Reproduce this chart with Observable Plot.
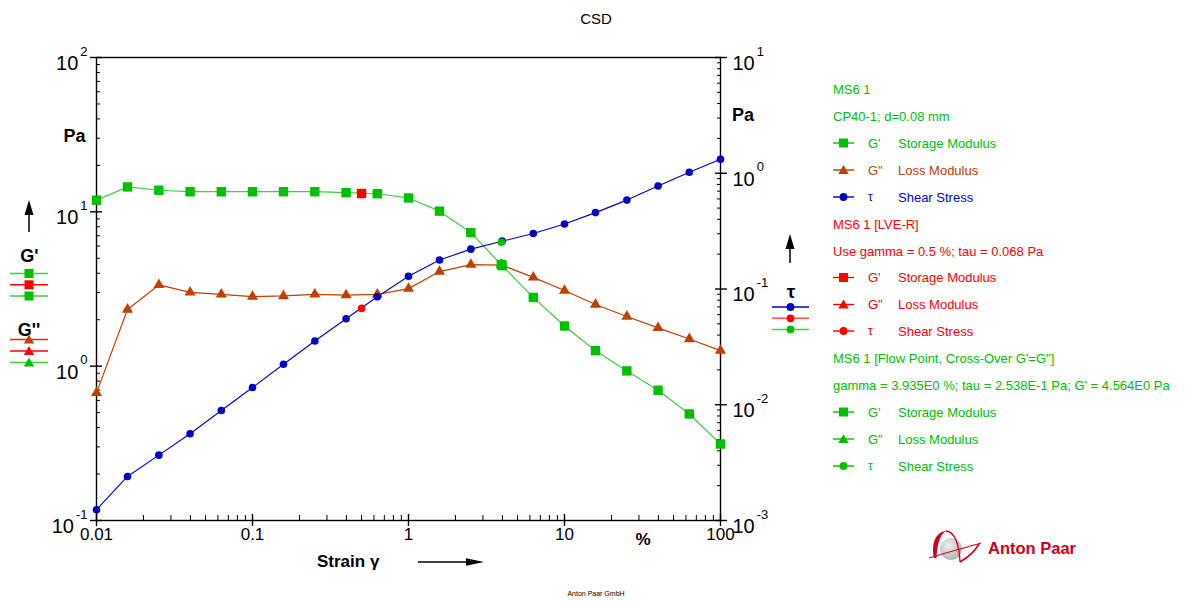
<!DOCTYPE html>
<html>
<head>
<meta charset="utf-8">
<script src="https://cdn.jsdelivr.net/npm/d3@7"></script>
<script src="https://cdn.jsdelivr.net/npm/@observablehq/plot@0.6"></script>
<style>
  body { margin: 0; background: #fff; }
  #wrap { position: relative; width: 1191px; height: 601px; overflow: hidden; background: #fff; }
  #wrap svg { position: absolute; left: 0; top: 0; }
</style>
</head>
<body>
<div id="wrap"></div>
<script>
// ---------------- data ----------------
const strain = [0.01, 0.0158, 0.0251, 0.0398, 0.0631, 0.1, 0.158, 0.251, 0.398, 0.631, 1, 1.58, 2.51, 3.98, 6.31, 10, 15.8, 25.1, 39.8, 63.1, 100];
const storageModulus = [11.9, 14.5, 13.8, 13.5, 13.5, 13.5, 13.5, 13.5, 13.3, 13.1, 12.3, 10.1, 7.34, 4.48, 2.79, 1.82, 1.26, 0.932, 0.698, 0.490, 0.313];
const lossModulus = [0.671, 2.33, 3.36, 3.01, 2.92, 2.82, 2.85, 2.92, 2.89, 2.92, 3.18, 4.10, 4.55, 4.51, 3.76, 3.09, 2.51, 2.10, 1.77, 1.50, 1.26];
const shearStress = [0.00124, 0.00240, 0.00367, 0.00561, 0.00893, 0.0141, 0.0224, 0.0355, 0.0553, 0.0858, 0.129, 0.178, 0.221, 0.259, 0.302, 0.364, 0.457, 0.586, 0.775, 1.02, 1.32];

// LVE-R result (red)
const lveStrain = [0.5];
const lveStorage = [13.15];
const lveStress = [0.068];

// Flow point, cross-over (green)
const crossStrain = [3.935];
const crossStorage = [4.564];
const crossLoss = [4.564];
const crossStress = [0.2538];

// axes
const xTicks = [0.01, 0.1, 1, 10, 100];
const xTickLabels = ["0.01", "0.1", "1", "10", "100"];
const leftTicks = [0.1, 1, 10, 100];
const leftExponents = ["-1", "0", "1", "2"];
const rightTicks = [0.001, 0.01, 0.1, 1, 10];
const rightExponents = ["-3", "-2", "-1", "0", "1"];
const minorSteps = [2, 3, 4, 5, 6, 7, 8, 9];

const xMinor = [0.01, 0.1, 1, 10].flatMap(d => minorSteps.map(k => k * d));
const leftMinor = [0.1, 1, 10].flatMap(d => minorSteps.map(k => k * d));
const rightMinor = [0.001, 0.01, 0.1, 1].flatMap(d => minorSteps.map(k => k * d));

// right (tau) axis: 10^-3..10^1 mapped onto left scale 10^-1..10^2
const tauToY = t => Math.pow(10, -1 + (Math.log10(t) + 3) * 0.75);

const GREEN = "#00c000", GREEN_LINE = "#3fcf3f", BROWN = "#c04000", BLUE = "#0000c4", RED = "#ff0000";
const FONT = "'Liberation Sans', Arial, Helvetica, sans-serif";

const rows = strain.map((s, i) => ({s, g1: storageModulus[i], g2: lossModulus[i], tau: shearStress[i]}));
const lve = lveStrain.map((s, i) => ({s, g1: lveStorage[i], tau: lveStress[i]}));
const cross = crossStrain.map((s, i) => ({s, g1: crossStorage[i], g2: crossLoss[i], tau: crossStress[i]}));

const rSq = 5.3, rTri = 4.1, rCirc = 3.8;
const EXP_SIZE = 13, BASE_SIZE = 20;
// approximate advance width of an exponent string (Liberation Sans metrics)
const expWidth = s => [...s].reduce((w, c) => w + (c === "-" ? 0.333 : 0.556) * EXP_SIZE, 0);

const leftBaseMarks = leftTicks.map((t, i) =>
  Plot.text([t], {y: d => d, text: () => "10", frameAnchor: "left", textAnchor: "end",
    dx: -9 - expWidth(leftExponents[i]) - 2, dy: 6, fontSize: BASE_SIZE}));

const chart = Plot.plot({
  width: 1191,
  height: 601,
  marginLeft: 96,
  marginRight: 471,
  marginTop: 57,
  marginBottom: 81,
  x: {type: "log", domain: [0.01, 100]},
  y: {type: "log", domain: [0.1, 100]},
  style: {fontFamily: FONT, background: "transparent", overflow: "visible", color: "black"},
  marks: [
    // axes ticks
    Plot.axisY(leftMinor, {anchor: "left", tickSize: 4, dx: 4, tickFormat: () => "", label: null, strokeWidth: 1}),
    Plot.axisY(leftTicks, {anchor: "left", tickSize: 12, dx: 6, tickFormat: () => "", label: null, strokeWidth: 1.4}),
    Plot.axisY(rightMinor.map(tauToY), {anchor: "right", tickSize: 4, dx: -4, tickFormat: () => "", label: null, strokeWidth: 1}),
    Plot.axisY(rightTicks.map(tauToY), {anchor: "right", tickSize: 12, dx: -6, tickFormat: () => "", label: null, strokeWidth: 1.4}),
    Plot.axisX(xMinor, {anchor: "bottom", tickSize: 5, dy: -5, tickFormat: () => "", label: null, strokeWidth: 1}),
    Plot.axisX(xTicks, {anchor: "bottom", tickSize: 12, dy: -6, tickFormat: () => "", label: null, strokeWidth: 1.4}),
    Plot.frame({stroke: "black", strokeWidth: 1.4}),
    // tick labels: left (right-aligned "10" + exponent)
    ...leftBaseMarks,
    Plot.text(leftTicks, {y: d => d, text: leftExponents, frameAnchor: "left", textAnchor: "end", dx: -9, dy: -6, fontSize: EXP_SIZE}),
    // right (left-aligned "10" + exponent)
    Plot.text(rightTicks.map(tauToY), {y: d => d, text: () => "10", frameAnchor: "right", textAnchor: "start", dx: 12, dy: 6, fontSize: BASE_SIZE}),
    Plot.text(rightTicks.map(tauToY), {y: d => d, text: rightExponents, frameAnchor: "right", textAnchor: "start", dx: 12 + 22.2 + 2, dy: -6, fontSize: EXP_SIZE}),
    // x
    Plot.text(xTicks, {x: d => d, text: xTickLabels, frameAnchor: "bottom", dy: 19, fontSize: 17}),
    // lines
    Plot.line(rows, {x: "s", y: "g1", stroke: GREEN_LINE, strokeWidth: 1.2}),
    Plot.line(rows, {x: "s", y: "g2", stroke: BROWN, strokeWidth: 1.2}),
    Plot.line(rows, {x: "s", y: d => tauToY(d.tau), stroke: BLUE, strokeWidth: 1.1}),
    // markers
    Plot.dot(rows, {x: "s", y: "g2", symbol: "triangle", r: rTri, fill: BROWN}),
    Plot.dot(rows, {x: "s", y: "g1", symbol: "square", r: rSq, fill: GREEN}),
    Plot.dot(rows, {x: "s", y: d => tauToY(d.tau), symbol: "circle", r: rCirc, fill: BLUE}),
    // LVE-R
    Plot.dot(lve, {x: "s", y: "g1", symbol: "square", r: rSq, fill: RED}),
    Plot.dot(lve, {x: "s", y: d => tauToY(d.tau), symbol: "circle", r: rCirc, fill: RED}),
    // cross-over
    Plot.dot(cross, {x: "s", y: "g2", symbol: "triangle", r: rTri, fill: GREEN}),
    Plot.dot(cross, {x: "s", y: "g1", symbol: "square", r: rSq, fill: GREEN}),
    Plot.dot(cross, {x: "s", y: d => tauToY(d.tau), symbol: "circle", r: rCirc, fill: GREEN})
  ]
});

document.getElementById("wrap").appendChild(chart);

// ---------------- decorations / legends ----------------
const ov = d3.select("#wrap").append("svg")
  .attr("width", 1191).attr("height", 601)
  .style("font-family", FONT)
  .style("pointer-events", "none");

function txt(x, y, s, opts = {}) {
  return ov.append("text").attr("x", x).attr("y", y)
    .attr("dominant-baseline", "central")
    .attr("text-anchor", opts.anchor || "start")
    .attr("font-size", opts.size || 13)
    .attr("font-weight", opts.bold ? "bold" : "normal")
    .attr("fill", opts.color || "black")
    .text(s);
}
function symbol(x1, x2, y, color, shape, lineColor) {
  ov.append("line").attr("x1", x1).attr("x2", x2).attr("y1", y).attr("y2", y)
    .attr("stroke", lineColor || color).attr("stroke-width", 1.4);
  const cx = (x1 + x2) / 2;
  if (shape === "square") ov.append("rect").attr("x", cx - 4.5).attr("y", y - 4.5).attr("width", 9).attr("height", 9).attr("fill", color);
  if (shape === "triangle") ov.append("path").attr("d", `M${cx},${y - 5}L${cx + 5.2},${y + 4}L${cx - 5.2},${y + 4}Z`).attr("fill", color);
  if (shape === "circle") ov.append("circle").attr("cx", cx).attr("cy", y).attr("r", 3.9).attr("fill", color);
}
function arrowUp(x, yTip, yBottom) {
  ov.append("line").attr("x1", x).attr("x2", x).attr("y1", yTip + 10).attr("y2", yBottom).attr("stroke", "black").attr("stroke-width", 1.5);
  ov.append("path").attr("d", `M${x},${yTip}L${x + 4.5},${yTip + 15}L${x - 4.5},${yTip + 15}Z`).attr("fill", "black");
}

// title
txt(596, 18, "CSD", {anchor: "middle", size: 15});

// left axis unit and legend
txt(74.5, 135.5, "Pa", {anchor: "middle", size: 18, bold: true});
arrowUp(29, 200, 232);
txt(29.5, 256, "G'", {anchor: "middle", size: 18, bold: true});
symbol(10, 48, 273.5, GREEN, "square", GREEN_LINE);
symbol(10, 48, 284.8, RED, "square");
symbol(10, 48, 296, GREEN, "square", GREEN_LINE);
txt(29, 330, "G''", {anchor: "middle", size: 18, bold: true});
symbol(10, 48, 339.5, BROWN, "triangle");
symbol(10, 48, 351, RED, "triangle");
symbol(10, 48, 362.5, GREEN, "triangle", GREEN_LINE);

// right axis unit and legend
txt(743, 115, "Pa", {anchor: "middle", size: 18, bold: true});
arrowUp(790, 234, 263);
txt(791, 291, "τ", {anchor: "middle", size: 19, bold: true});
symbol(772, 809, 307, BLUE, "circle");
symbol(772, 809, 318.3, RED, "circle", "#ff5050");
symbol(772, 809, 329.5, GREEN, "circle", GREEN_LINE);

// x axis labels
txt(643, 539, "%", {anchor: "middle", size: 17, bold: true});
txt(317, 561, "Strain γ", {size: 17, bold: true});
ov.append("line").attr("x1", 418).attr("x2", 470).attr("y1", 562).attr("y2", 562).attr("stroke", "black").attr("stroke-width", 1.5);
ov.append("path").attr("d", "M484,562L466,558.3L466,565.7Z").attr("fill", "black");

// right-hand legend
const LX = 833, SYM_X2 = 854, NAME1 = 868, NAME2 = 898;
const legendRows = [
  {y: 89, type: "head", text: "MS6 1", color: GREEN},
  {y: 116, type: "head", text: "CP40-1; d=0.08 mm", color: GREEN},
  {y: 143, type: "item", shape: "square", sym: "G'", text: "Storage Modulus", color: GREEN},
  {y: 170, type: "item", shape: "triangle", sym: "G\"", text: "Loss Modulus", color: BROWN},
  {y: 197, type: "item", shape: "circle", sym: "τ", text: "Shear Stress", color: BLUE},
  {y: 224, type: "head", text: "MS6 1 [LVE-R]", color: RED},
  {y: 251, type: "head", text: "Use gamma = 0.5 %; tau = 0.068 Pa", color: RED},
  {y: 277.5, type: "item", shape: "square", sym: "G'", text: "Storage Modulus", color: RED},
  {y: 304.5, type: "item", shape: "triangle", sym: "G\"", text: "Loss Modulus", color: RED},
  {y: 331, type: "item", shape: "circle", sym: "τ", text: "Shear Stress", color: RED},
  {y: 358.5, type: "head", text: "MS6 1 [Flow Point, Cross-Over G'=G\"]", color: GREEN},
  {y: 385, type: "head", text: "gamma = 3.935E0 %; tau = 2.538E-1 Pa; G' = 4.564E0 Pa", color: GREEN},
  {y: 412, type: "item", shape: "square", sym: "G'", text: "Storage Modulus", color: GREEN},
  {y: 439, type: "item", shape: "triangle", sym: "G\"", text: "Loss Modulus", color: GREEN},
  {y: 466, type: "item", shape: "circle", sym: "τ", text: "Shear Stress", color: GREEN}
];
legendRows.forEach(r => {
  if (r.type === "head") {
    txt(LX, r.y, r.text, {color: r.color, size: 13});
  } else {
    symbol(LX, SYM_X2, r.y, r.color, r.shape);
    txt(NAME1, r.y, r.sym, {color: r.color, size: r.sym === "τ" ? 12 : 13});
    txt(NAME2, r.y, r.text, {color: r.color, size: 13});
  }
});

// logo
const LOGO_RED = "#d0001a";
const grad = ov.append("defs").append("radialGradient").attr("id", "sph").attr("cx", "40%").attr("cy", "35%").attr("r", "70%");
grad.append("stop").attr("offset", "0%").attr("stop-color", "#f0f0f0");
grad.append("stop").attr("offset", "100%").attr("stop-color", "#b0b0b0");
ov.append("circle").attr("cx", 951).attr("cy", 549).attr("r", 11).attr("fill", "url(#sph)");
ov.append("path").attr("d", "M934,558 C931,543 936,532 946,531 C940,534 937,545 936.5,558 Z").attr("fill", LOGO_RED);
ov.append("path").attr("d", "M946,531 C954,532 959,542 960,562").attr("fill", "none").attr("stroke", LOGO_RED).attr("stroke-width", 1.3);
ov.append("path").attr("d", "M929,558 C945,553 964,548 981,543").attr("fill", "none").attr("stroke", LOGO_RED).attr("stroke-width", 1.1);
ov.append("path").attr("d", "M960,562 C967,558 975,551 979,544").attr("fill", "none").attr("stroke", LOGO_RED).attr("stroke-width", 1.6);
txt(988, 547.5, "Anton Paar", {size: 16.5, bold: true, color: LOGO_RED});

// footer
txt(596, 593, "Anton Paar GmbH", {anchor: "middle", size: 7});
</script>
</body>
</html>
